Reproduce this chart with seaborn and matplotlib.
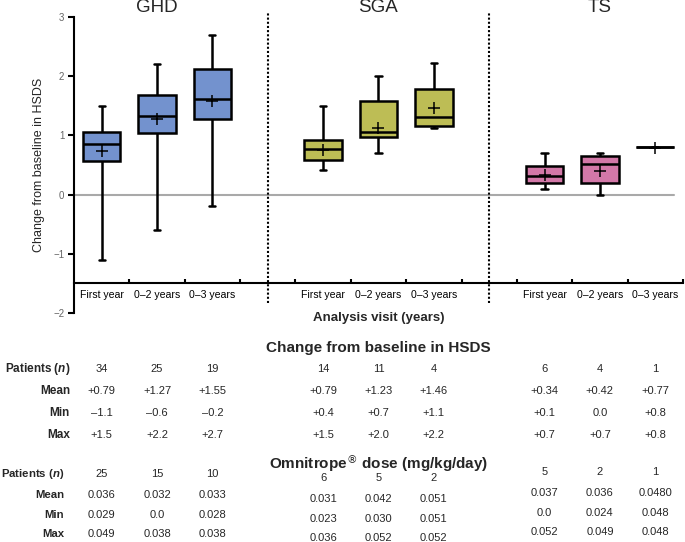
import pandas as pd
import matplotlib
matplotlib.use("Agg")
import matplotlib.pyplot as plt
import matplotlib.transforms as mtransforms
import seaborn as sns

# Grupos y visitas
grupos = ["GHD", "SGA", "TS"]
visitas = ["First year", "0–2 years", "0–3 years"]
colores = {"GHD": "#7392ce", "SGA": "#bdbd55", "TS": "#d378a8"}

# Estadisticos de las cajas (min, q1, mediana, q3, max, media)
ghd_min = [-1.1, -0.6, -0.2]
ghd_q1 = [0.56, 1.04, 1.27]
ghd_med = [0.85, 1.33, 1.62]
ghd_q3 = [1.05, 1.68, 2.12]
ghd_max = [1.5, 2.2, 2.7]
ghd_media = [0.74, 1.28, 1.58]

sga_min = [0.41, 0.71, 1.12]
sga_q1 = [0.58, 0.98, 1.16]
sga_med = [0.77, 1.05, 1.32]
sga_q3 = [0.93, 1.58, 1.78]
sga_max = [1.5, 2.0, 2.22]
sga_media = [0.75, 1.12, 1.46]

ts_min = [0.10, 0.0, 0.8]
ts_q1 = [0.20, 0.20, 0.8]
ts_med = [0.31, 0.51, 0.8]
ts_q3 = [0.48, 0.66, 0.8]
ts_max = [0.70, 0.70, 0.8]
ts_media = [0.34, 0.40, 0.78]

# Tabla: cambio desde el basal en HSDS
hsds_n = ["34", "25", "19", "14", "11", "4", "6", "4", "1"]
hsds_media = ["+0.79", "+1.27", "+1.55", "+0.79", "+1.23", "+1.46", "+0.34", "+0.42", "+0.77"]
hsds_min = ["–1.1", "–0.6", "–0.2", "+0.4", "+0.7", "+1.1", "+0.1", "0.0", "+0.8"]
hsds_max = ["+1.5", "+2.2", "+2.7", "+1.5", "+2.0", "+2.2", "+0.7", "+0.7", "+0.8"]

# Tabla: dosis de Omnitrope
dosis_n = ["25", "15", "10", "6", "5", "2", "5", "2", "1"]
dosis_media = ["0.036", "0.032", "0.033", "0.031", "0.042", "0.051", "0.037", "0.036", "0.0480"]
dosis_min = ["0.029", "0.0", "0.028", "0.023", "0.030", "0.051", "0.0", "0.024", "0.048"]
dosis_max = ["0.049", "0.038", "0.038", "0.036", "0.052", "0.052", "0.052", "0.049", "0.048"]

stats = {
    "GHD": (ghd_min, ghd_q1, ghd_med, ghd_q3, ghd_max, ghd_media),
    "SGA": (sga_min, sga_q1, sga_med, sga_q3, sga_max, sga_media),
    "TS": (ts_min, ts_q1, ts_med, ts_q3, ts_max, ts_media),
}

# Orden de categorias con huecos entre grupos
orden = []
for g in grupos:
    orden += [g + " " + v for v in visitas]
    if g != grupos[-1]:
        orden.append("hueco " + g)

# DataFrame largo: 5 puntos por caja => cuartiles exactos con whis=(0, 100)
filas = []
medias = []
for g in grupos:
    mn, q1, me, q3, mx, mu = stats[g]
    for i, v in enumerate(visitas):
        for val in (mn[i], q1[i], me[i], q3[i], mx[i]):
            filas.append({"clave": g + " " + v, "grupo": g, "valor": val})
        medias.append({"clave": g + " " + v, "media": mu[i]})
df = pd.DataFrame(filas)
df_medias = pd.DataFrame(medias)

sns.set_theme(style="white")
plt.rcParams["font.family"] = ["Liberation Sans", "DejaVu Sans"]
plt.rcParams["mathtext.fontset"] = "custom"
plt.rcParams["mathtext.it"] = "Liberation Sans:italic:bold"

fig = plt.figure(figsize=(6.85, 5.42), dpi=100)
ax = fig.add_axes([0.108, 0.4225, 0.889, 0.546])

sns.boxplot(data=df, x="clave", y="valor", hue="grupo", order=orden,
            palette=colores, saturation=1, dodge=False, whis=(0, 100),
            width=0.68, linewidth=1.8, linecolor="black", legend=False,
            showfliers=False, capwidths=0.11, ax=ax)
sns.pointplot(data=df_medias, x="clave", y="media", order=orden, color="black",
              marker="+", linestyle="none", errorbar=None, markersize=9,
              markeredgewidth=1.1, ax=ax)

ax.set_xlim(-0.5, len(orden) - 0.5)
ax.set_ylim(-2, 3)
ax.axhline(0, xmax=0.985, color="#a9a9a9", lw=1.5, zorder=0.5)

# Lineas punteadas entre grupos
huecos = [orden.index(c) for c in orden if c.startswith("hueco")]
ax.vlines(huecos, -1.83, 3.08, colors="black", linestyles=(0, (1, 1)),
          lw=1.5, clip_on=False)

# Ejes
ax.spines["top"].set_visible(False)
ax.spines["right"].set_visible(False)
ax.spines["bottom"].set_position(("data", -1.5))
for s in ("left", "bottom"):
    ax.spines[s].set_color("black")
    ax.spines[s].set_linewidth(1.5)

ax.set_yticks([-2, -1, 0, 1, 2, 3])
ax.tick_params(axis="y", direction="out", length=4, width=1.5, color="black",
               labelsize=7, labelcolor="#666666", pad=3, left=True)

posiciones = [i for i, c in enumerate(orden) if not c.startswith("hueco")]
etiquetas = [c.split(" ", 1)[1] for c in orden if not c.startswith("hueco")]
ax.set_xticks([i + 0.5 for i in range(len(orden))])
ax.set_xticklabels([])
ax.set_xticks(posiciones, minor=True)
ax.set_xticklabels(etiquetas, minor=True)
ax.tick_params(axis="x", which="major", direction="in", length=3, width=1.5,
               color="black", bottom=True)
ax.tick_params(axis="x", which="minor", length=0, labelsize=7.6, pad=5,
               labelcolor="black")
ax.set_xlabel("")
ax.set_ylabel("Change from baseline in HSDS", fontsize=9, labelpad=6)

# Titulos de cada grupo
for g in grupos:
    xc = orden.index(g + " " + visitas[1])
    ax.text(xc, 3.17, g, ha="center", va="center", fontsize=13.5, clip_on=False)

# Tabla inferior
trans = mtransforms.blended_transform_factory(ax.transData, fig.transFigure)
xc = orden.index(grupos[1] + " " + visitas[1])
H = 542.0


def fy(px):
    return 1 - px / H


ax.text(xc, fy(318), "Analysis visit (years)", transform=trans, ha="center",
        va="center", fontsize=9.5, fontweight="bold")
ax.text(xc, fy(348), "Change from baseline in HSDS", transform=trans,
        ha="center", va="center", fontsize=11, fontweight="bold")
ax.text(xc, fy(463), "Omnitrope$^{®}$ dose (mg/kg/day)", transform=trans,
        ha="center", va="center", fontsize=11, fontweight="bold")

etiq_filas = [r"Patients ($\mathit{n}$)", "Mean", "Min", "Max"]
fuente_num = ["Liberation Sans Narrow", "Liberation Sans", "DejaVu Sans"]

bloque1 = [hsds_n, hsds_media, hsds_min, hsds_max]
y1 = [369, 391, 413, 435]
for lab, yy in zip(etiq_filas, y1):
    fig.text(70 / 685, fy(yy), lab, ha="right", va="center", fontsize=8.5,
             fontweight="bold")
for fila, yy in zip(bloque1, y1):
    for pos, val in zip(posiciones, fila):
        ax.text(pos, fy(yy), val, transform=trans, ha="center", va="center",
                fontsize=8, family=fuente_num)

bloque2 = [dosis_n, dosis_media, dosis_min, dosis_max]
y2 = [474, 495, 515, 534]
desfase = {"GHD": 0, "SGA": 4, "TS": -2}
for lab, yy in zip(etiq_filas, y2):
    fig.text(64 / 685, fy(yy), lab, ha="right", va="center", fontsize=8.2,
             fontweight="bold")
for fila, yy in zip(bloque2, y2):
    for k, (pos, val) in enumerate(zip(posiciones, fila)):
        g = grupos[k // 3]
        ax.text(pos, fy(yy + desfase[g]), val, transform=trans, ha="center",
                va="center", fontsize=8, family=fuente_num)

fig.savefig("out.png", dpi=100)
